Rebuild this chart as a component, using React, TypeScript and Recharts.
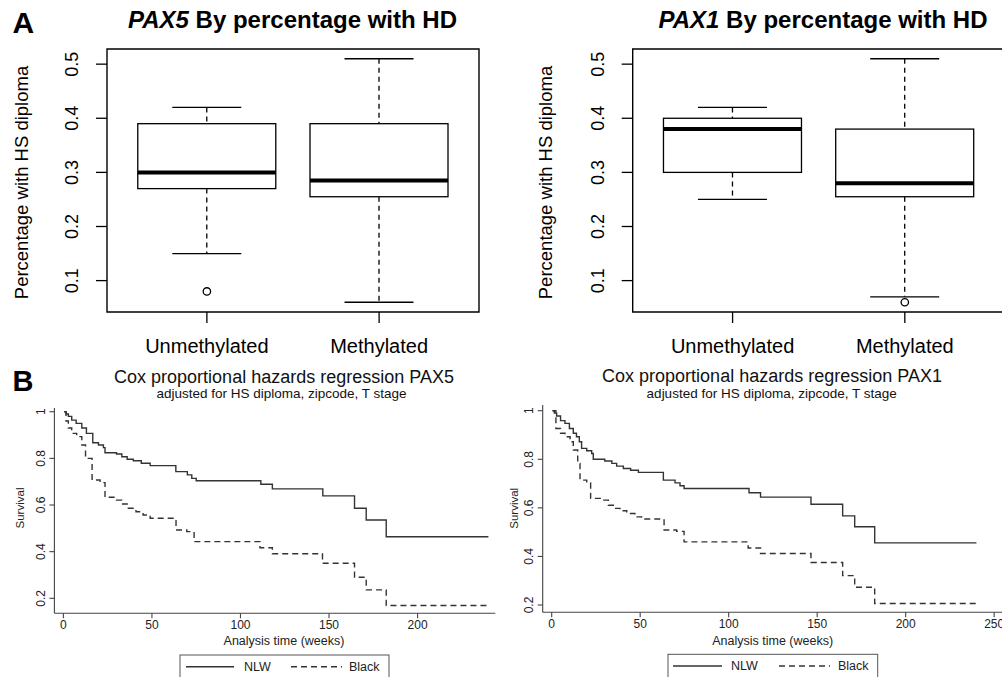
import React from 'react';
import {
  ComposedChart,
  Bar,
  Scatter,
  XAxis,
  YAxis,
  ReferenceArea,
  LineChart,
  Line,
} from 'recharts';

const FONT = '"Liberation Sans", Arial, Helvetica, sans-serif';

// ---------- Panel A: boxplots ----------
const boxCategories = ['Unmethylated', 'Methylated'];
const boxYTicks = [0.1, 0.2, 0.3, 0.4, 0.5];

const pax5Low = [0.15, 0.06];
const pax5Q1 = [0.27, 0.255];
const pax5Median = [0.3, 0.285];
const pax5Q3 = [0.39, 0.39];
const pax5High = [0.42, 0.51];
const pax5Outliers = [0.08, null];

const pax1Low = [0.25, 0.07];
const pax1Q1 = [0.3, 0.255];
const pax1Median = [0.38, 0.28];
const pax1Q3 = [0.4, 0.38];
const pax1High = [0.42, 0.51];
const pax1Outliers = [null, 0.06];

// ---------- Panel B: survival curves ----------
const survXTicksPax5 = [0, 50, 100, 150, 200];
const survXTicksPax1 = [0, 50, 100, 150, 200, 250];
const survYTicks = [0.2, 0.4, 0.6, 0.8, 1];

const pax5NlwTime = [0.5, 1.5, 2.8, 4.7, 7.2, 10.4, 13, 16.6, 19.8, 22.6, 23.5, 30, 33, 36, 39.5, 44, 49, 63.5, 70, 72.5, 75, 111.5, 118, 146.5, 164.4, 171, 182.3, 240];
const pax5NlwSurv = [1, 0.99, 0.98, 0.964, 0.95, 0.93, 0.907, 0.867, 0.857, 0.846, 0.824, 0.819, 0.807, 0.796, 0.79, 0.779, 0.769, 0.743, 0.729, 0.714, 0.704, 0.689, 0.669, 0.639, 0.586, 0.536, 0.464, 0.464];

const pax5BlackTime = [0.5, 1.5, 2.8, 4.7, 7.5, 10.4, 12.5, 16.2, 20.7, 23.5, 29, 33, 36.7, 41, 45, 49, 63.6, 69.7, 73.8, 111, 118, 146.3, 164.4, 171, 182.3, 240];
const pax5BlackSurv = [1, 0.96, 0.93, 0.907, 0.893, 0.857, 0.8, 0.707, 0.696, 0.633, 0.621, 0.604, 0.586, 0.571, 0.557, 0.543, 0.493, 0.486, 0.443, 0.417, 0.391, 0.35, 0.29, 0.236, 0.169, 0.169];

const pax1NlwTime = [0.5, 1.5, 2.8, 5, 7.5, 10, 12.2, 14, 15.6, 16.9, 19.8, 22.6, 23.5, 30, 34, 36.7, 40.5, 44.6, 49, 63.1, 69.7, 72.5, 74.8, 111.5, 118, 146.5, 164.4, 171.2, 182.5, 240];
const pax1NlwSurv = [1, 0.99, 0.978, 0.959, 0.948, 0.927, 0.907, 0.893, 0.872, 0.845, 0.835, 0.824, 0.8, 0.793, 0.783, 0.772, 0.762, 0.755, 0.746, 0.714, 0.703, 0.691, 0.68, 0.662, 0.644, 0.615, 0.567, 0.522, 0.456, 0.456];

const pax1BlackTime = [0.5, 2.4, 5, 7.5, 10.4, 12.2, 14.7, 16, 19.8, 22, 28.2, 32, 34.8, 38.6, 42.4, 47, 50.8, 63.5, 70.6, 74.8, 111, 118, 146.5, 164.4, 171.2, 182.5, 240];
const pax1BlackSurv = [1, 0.927, 0.907, 0.893, 0.872, 0.838, 0.783, 0.714, 0.703, 0.639, 0.632, 0.611, 0.598, 0.588, 0.577, 0.563, 0.554, 0.509, 0.503, 0.46, 0.435, 0.412, 0.375, 0.321, 0.273, 0.206, 0.206];

const buildBoxRows = (
  low: number[], q1: number[], med: number[], q3: number[], high: number[], out: (number | null)[]
) =>
  boxCategories.map((cat, i) => ({
    pos: i + 1,
    cat,
    range: [low[i], high[i]],
    low: low[i],
    q1: q1[i],
    median: med[i],
    q3: q3[i],
    high: high[i],
    outlier: out[i],
  }));

const buildSurv = (t: number[], s: number[]) => t.map((tt, i) => ({ t: tt, s: s[i] }));

const pax5Rows = buildBoxRows(pax5Low, pax5Q1, pax5Median, pax5Q3, pax5High, pax5Outliers);
const pax1Rows = buildBoxRows(pax1Low, pax1Q1, pax1Median, pax1Q3, pax1High, pax1Outliers);

const pax5Nlw = buildSurv(pax5NlwTime, pax5NlwSurv);
const pax5Black = buildSurv(pax5BlackTime, pax5BlackSurv);
const pax1Nlw = buildSurv(pax1NlwTime, pax1NlwSurv);
const pax1Black = buildSurv(pax1BlackTime, pax1BlackSurv);

// ---------- shapes & ticks ----------
const BoxShape = (props: any) => {
  const { x, y, width, height, payload } = props;
  if (!payload || x == null || y == null) return null;
  const top = Math.min(y, y + height);
  const bottom = Math.max(y, y + height);
  const lo = payload.low;
  const hi = payload.high;
  const px = (v: number) => bottom - ((v - lo) / (hi - lo)) * (bottom - top);
  const cx = x + width / 2;
  const cap = width / 4;
  const sw = 1.3;
  return (
    <g>
      <line x1={cx} x2={cx} y1={px(hi)} y2={px(payload.q3)} stroke="#000" strokeWidth={sw} strokeDasharray="5 4" />
      <line x1={cx} x2={cx} y1={px(payload.q1)} y2={px(lo)} stroke="#000" strokeWidth={sw} strokeDasharray="5 4" />
      <line x1={cx - cap} x2={cx + cap} y1={px(hi)} y2={px(hi)} stroke="#000" strokeWidth={sw} />
      <line x1={cx - cap} x2={cx + cap} y1={px(lo)} y2={px(lo)} stroke="#000" strokeWidth={sw} />
      <rect x={x} y={px(payload.q3)} width={width} height={px(payload.q1) - px(payload.q3)} fill="#fff" stroke="#000" strokeWidth={sw} />
      <line x1={x} x2={x + width} y1={px(payload.median)} y2={px(payload.median)} stroke="#000" strokeWidth={4} />
    </g>
  );
};

const OutlierShape = (props: any) => {
  const { cx, cy, payload } = props;
  if (!payload || payload.outlier == null || cx == null || cy == null || isNaN(cy)) return null;
  return <circle cx={cx} cy={cy} r={3.7} fill="none" stroke="#000" strokeWidth={1.3} />;
};

const BoxYTick = (props: any) => {
  const { x, y, payload } = props;
  const bx = x - 17.8;
  return (
    <text x={bx} y={y} transform={`rotate(-90 ${bx} ${y})`} textAnchor="middle" fontSize={18} fill="#000" fontFamily={FONT}>
      {Number(payload.value).toFixed(1)}
    </text>
  );
};

const BoxXTick = (props: any) => {
  const { x, y, payload } = props;
  const label = boxCategories[Math.round(payload.value) - 1];
  return (
    <text x={x} y={y + 30} textAnchor="middle" fontSize={20} fill="#000" fontFamily={FONT}>
      {label}
    </text>
  );
};

const SurvYTick = (props: any) => {
  const { x, y, payload } = props;
  const bx = x - 4.5;
  const v = Number(payload.value);
  return (
    <text x={bx} y={y} transform={`rotate(-90 ${bx} ${y})`} textAnchor="middle" fontSize={12} fill="#222" fontFamily={FONT}>
      {v === 1 ? '1' : v.toFixed(1)}
    </text>
  );
};

const SurvXTick = (props: any) => {
  const { x, y, payload } = props;
  return (
    <text x={x} y={y + 10.7} textAnchor="middle" fontSize={12} fill="#222" fontFamily={FONT}>
      {payload.value}
    </text>
  );
};

// ---------- chart builders ----------
const BoxPanel = ({ rows, left, yAxisWidth, width }: any) => (
  <div style={{ position: 'absolute', left, top: 0 }}>
    <ComposedChart
      width={width}
      height={370}
      data={rows}
      margin={{ top: 49, right: width - yAxisWidth - 372, bottom: 0, left: 0 }}
    >
      <XAxis
        type="number"
        dataKey="pos"
        domain={[0.42, 2.58]}
        allowDataOverflow
        ticks={[1, 2]}
        height={58}
        axisLine={false}
        tickSize={11}
        tickMargin={0}
        tickLine={{ stroke: '#000', strokeWidth: 1.3 }}
        tick={<BoxXTick />}
        interval={0}
      />
      <YAxis
        type="number"
        domain={[0.042, 0.528]}
        allowDataOverflow
        ticks={boxYTicks}
        width={yAxisWidth}
        axisLine={false}
        tickSize={11}
        tickMargin={0}
        tickLine={{ stroke: '#000', strokeWidth: 1.3 }}
        tick={<BoxYTick />}
        interval={0}
      />
      <ReferenceArea
        x1={0.42}
        x2={2.58}
        y1={0.042}
        y2={0.528}
        fill="none"
        fillOpacity={0}
        stroke="#000"
        strokeWidth={1.4}
        ifOverflow="visible"
      />
      <Bar dataKey="range" barSize={138} isAnimationActive={false} shape={(p: any) => <BoxShape {...p} />} />
      <Scatter dataKey="outlier" isAnimationActive={false} shape={(p: any) => <OutlierShape {...p} />} />
    </ComposedChart>
  </div>
);

const SurvPanel = ({ nlw, black, left, width, yAxisWidth, top, plotHeight, plotWidth, xDomain, yDomain, xTicks }: any) => (
  <div style={{ position: 'absolute', left, top: 360 }}>
    <LineChart
      width={width}
      height={317}
      margin={{
        top,
        right: width - yAxisWidth - plotWidth,
        bottom: 317 - top - plotHeight - 30,
        left: 0,
      }}
    >
      <XAxis
        type="number"
        dataKey="t"
        domain={xDomain}
        allowDataOverflow
        ticks={xTicks}
        height={30}
        axisLine={{ stroke: '#444', strokeWidth: 1.1 }}
        tickSize={5}
        tickMargin={0}
        tickLine={{ stroke: '#444', strokeWidth: 1.1 }}
        tick={<SurvXTick />}
        interval={0}
      />
      <YAxis
        type="number"
        domain={yDomain}
        allowDataOverflow
        ticks={survYTicks}
        width={yAxisWidth}
        axisLine={{ stroke: '#444', strokeWidth: 1.1 }}
        tickSize={5}
        tickMargin={0}
        tickLine={{ stroke: '#444', strokeWidth: 1.1 }}
        tick={<SurvYTick />}
        interval={0}
      />
      <Line data={nlw} dataKey="s" type="stepAfter" stroke="#333" strokeWidth={1.4} dot={false} isAnimationActive={false} />
      <Line data={black} dataKey="s" type="stepAfter" stroke="#333" strokeWidth={1.4} strokeDasharray="6 4" dot={false} isAnimationActive={false} />
    </LineChart>
  </div>
);

const BoxTitle = ({ cx, gene }: any) => (
  <text x={cx} y={27.5} textAnchor="middle" fontSize={24} fontWeight="bold" fill="#000" fontFamily={FONT}>
    <tspan fontStyle="italic">{gene}</tspan> By percentage with HD
  </text>
);

const RotLabel = ({ x, y, size, children, fill }: any) => (
  <text x={x} y={y} transform={`rotate(-90 ${x} ${y})`} textAnchor="middle" fontSize={size} fill={fill || '#000'} fontFamily={FONT}>
    {children}
  </text>
);

const SurvLegend = ({ boxX, boxY, boxW, y, solid, nlwX, dashed, blackX }: any) => (
  <g>
    <rect x={boxX} y={boxY} width={boxW} height={40} fill="#fff" stroke="#555" strokeWidth={1} />
    <line x1={solid[0]} x2={solid[1]} y1={y} y2={y} stroke="#333" strokeWidth={1.4} />
    <text x={nlwX} y={y + 4.3} fontSize={12.5} fill="#222" fontFamily={FONT}>NLW</text>
    <line x1={dashed[0]} x2={dashed[1]} y1={y} y2={y} stroke="#333" strokeWidth={1.4} strokeDasharray="6 4" />
    <text x={blackX} y={y + 4.3} fontSize={12.5} fill="#222" fontFamily={FONT}>Black</text>
  </g>
);

export default function App() {
  return (
    <div
      style={{
        position: 'absolute',
        left: 0,
        top: 0,
        width: 1002,
        height: 677,
        overflow: 'hidden',
        background: '#fff',
        fontFamily: FONT,
      }}
    >
      <BoxPanel rows={pax5Rows} left={0} yAxisWidth={107} width={500} />
      <BoxPanel rows={pax1Rows} left={500} yAxisWidth={132.7} width={520} />

      <SurvPanel
        nlw={pax5Nlw}
        black={pax5Black}
        left={0}
        width={500}
        yAxisWidth={54.4}
        top={48}
        plotHeight={205.3}
        plotWidth={440.9}
        xDomain={[-5.08, 243.9]}
        yDomain={[0.1357, 1.0159]}
        xTicks={survXTicksPax5}
      />
      <SurvPanel
        nlw={pax1Nlw}
        black={pax1Black}
        left={500}
        width={520}
        yAxisWidth={42.7}
        top={45}
        plotHeight={207.3}
        plotWidth={460.3}
        xDomain={[-5.08, 255]}
        yDomain={[0.17, 1.0235]}
        xTicks={survXTicksPax1}
      />

      <svg width={1002} height={677} style={{ position: 'absolute', left: 0, top: 0, pointerEvents: 'none' }}>
        <text x={12.5} y={33.3} fontSize={30} fontWeight="bold" fill="#000" fontFamily={FONT}>A</text>
        <text x={12.5} y={390.7} fontSize={29} fontWeight="bold" fill="#000" fontFamily={FONT}>B</text>

        <BoxTitle cx={292.5} gene="PAX5" />
        <BoxTitle cx={823} gene="PAX1" />
        <RotLabel x={28.1} y={182.5} size={18.5}>Percentage with HS diploma</RotLabel>
        <RotLabel x={551.5} y={182.5} size={18.5}>Percentage with HS diploma</RotLabel>

        <text x={284} y={383.3} textAnchor="middle" fontSize={18} fill="#111" fontFamily={FONT}>Cox proportional hazards regression PAX5</text>
        <text x={281.5} y={398.3} textAnchor="middle" fontSize={13.5} fill="#111" fontFamily={FONT}>adjusted for HS diploma, zipcode, T stage</text>
        <text x={772} y={382} textAnchor="middle" fontSize={18} fill="#111" fontFamily={FONT}>Cox proportional hazards regression PAX1</text>
        <text x={771.7} y={397.5} textAnchor="middle" fontSize={13.5} fill="#111" fontFamily={FONT}>adjusted for HS diploma, zipcode, T stage</text>

        <RotLabel x={24} y={508} size={11.5} fill="#222">Survival</RotLabel>
        <RotLabel x={518.3} y={508.3} size={11.5} fill="#222">Survival</RotLabel>

        <text x={284} y={644.5} textAnchor="middle" fontSize={12.5} fill="#222" fontFamily={FONT}>Analysis time (weeks)</text>
        <text x={772.7} y={644.5} textAnchor="middle" fontSize={12.5} fill="#222" fontFamily={FONT}>Analysis time (weeks)</text>

        <SurvLegend boxX={180} boxY={655} boxW={209} y={666.7} solid={[186, 234]} nlwX={244} dashed={[291, 342]} blackX={349} />
        <SurvLegend boxX={668} boxY={654.3} boxW={209.7} y={666} solid={[673, 722]} nlwX={731} dashed={[779, 830]} blackX={838} />
      </svg>
    </div>
  );
}
